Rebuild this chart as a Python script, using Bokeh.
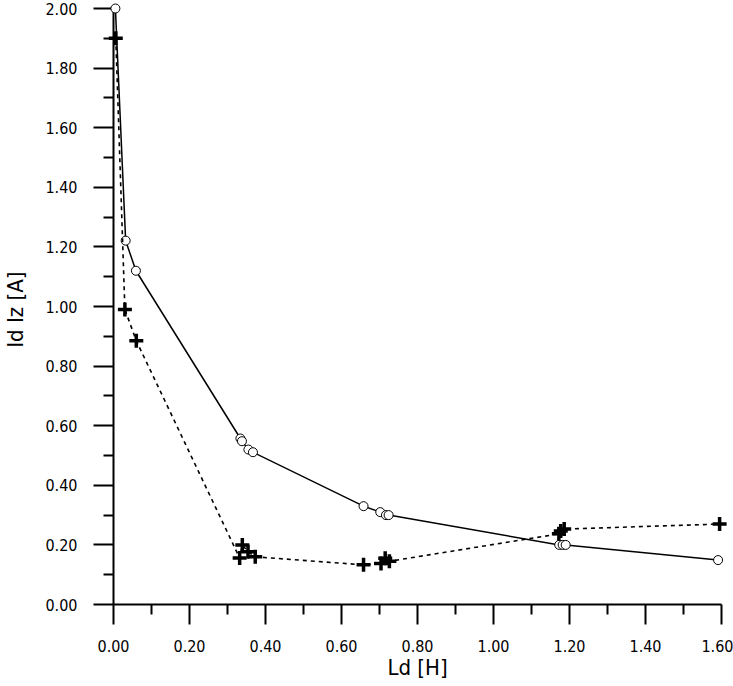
from bokeh.plotting import figure
from bokeh.models import LinearAxis, FixedTicker, PrintfTickFormatter, Range1d
from bokeh.embed import file_html
from bokeh.resources import INLINE

# Solid series (open circles): Iz
iz_x = [0.005, 0.032, 0.059, 0.334, 0.338, 0.355, 0.367, 0.658, 0.702, 0.717, 0.724, 1.173, 1.182, 1.190, 1.591]
iz_y = [2.00, 1.221, 1.12, 0.557, 0.548, 0.52, 0.511, 0.33, 0.31, 0.30, 0.30, 0.20, 0.20, 0.20, 0.149]

# Dashed series (plus markers): Id
id_x = [0.006, 0.030, 0.060, 0.332, 0.339, 0.354, 0.373, 0.658, 0.704, 0.715, 0.726, 1.172, 1.177, 1.186, 1.595]
id_y = [1.90, 0.99, 0.885, 0.156, 0.20, 0.177, 0.16, 0.133, 0.138, 0.155, 0.145, 0.237, 0.247, 0.253, 0.27]

x_major = [0.0, 0.2, 0.4, 0.6, 0.8, 1.0, 1.2, 1.4, 1.6]
x_minor = [0.1, 0.3, 0.5, 0.7, 0.9, 1.1, 1.3, 1.5]
y_major = [0.0, 0.2, 0.4, 0.6, 0.8, 1.0, 1.2, 1.4, 1.6, 1.8, 2.0]
y_minor = [0.1, 0.3, 0.5, 0.7, 0.9, 1.1, 1.3, 1.5, 1.7, 1.9]

FONT = "'DejaVu Sans Condensed', 'Liberation Sans', sans-serif"

p = figure(width=733, height=686, output_backend="svg", toolbar_location=None,
           x_axis_type=None, y_axis_type=None,
           x_range=Range1d(0, 1.6), y_range=Range1d(0, 2.0),
           min_border_left=112, min_border_right=12, min_border_top=8, min_border_bottom=82)
p.outline_line_color = None
p.background_fill_color = "white"
p.border_fill_color = "white"


def style(ax):
    ax.axis_line_width = 2
    ax.axis_line_color = "black"
    ax.major_tick_out = 20
    ax.major_tick_in = 0
    ax.minor_tick_out = 10
    ax.minor_tick_in = 0
    ax.major_tick_line_width = 2
    ax.minor_tick_line_width = 2
    ax.major_label_text_font = FONT
    ax.major_label_text_font_size = "16px"
    ax.major_label_text_color = "black"
    ax.axis_label_text_font = FONT
    ax.axis_label_text_font_size = "22px"
    ax.axis_label_text_font_style = "normal"
    ax.axis_label_text_color = "black"
    ax.formatter = PrintfTickFormatter(format="%.2f")


xax = LinearAxis(ticker=FixedTicker(ticks=x_major, minor_ticks=x_minor),
                 axis_label="Ld [H]")
style(xax)
xax.major_label_standoff = 15
xax.axis_label_standoff = 0
p.add_layout(xax, "below")

yax = LinearAxis(ticker=FixedTicker(ticks=y_major, minor_ticks=y_minor),
                 axis_label="Id  Iz [A]")
style(yax)
yax.major_label_standoff = 16
yax.axis_label_standoff = 14
p.add_layout(yax, "left")

p.line(iz_x, iz_y, line_color="black", line_width=1.5, level="overlay")
p.scatter(iz_x, iz_y, marker="circle", size=9, line_color="black", line_width=1,
          fill_color="white", level="overlay")

p.line(id_x, id_y, line_color="black", line_width=1.6, line_dash="4 4", level="overlay")
p.scatter(id_x, id_y, marker="cross", size=14, line_color="black", line_width=3.5, level="overlay")

open("out.html", "w").write(file_html(p, INLINE))
